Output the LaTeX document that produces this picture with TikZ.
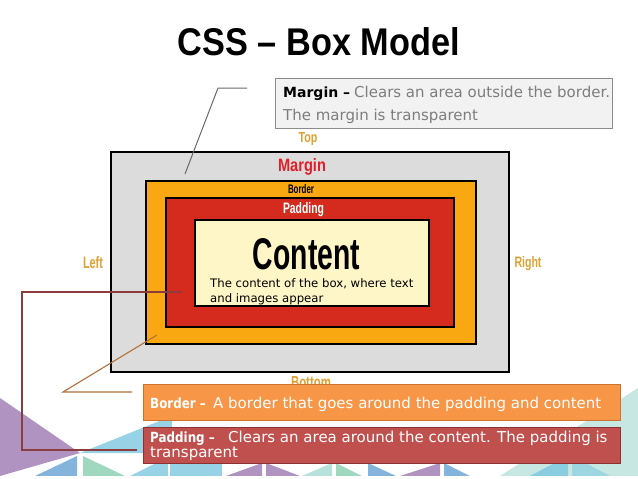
\documentclass[tikz,border=0pt]{standalone}
\usepackage{fontspec}
\setmainfont{DejaVu Sans}
\newfontfamily\headfont{Liberation Sans}
\usepackage{graphicx}
\definecolor{marginfill}{RGB}{220,220,220}
\definecolor{borderfill}{RGB}{250,168,18}
\definecolor{paddingfill}{RGB}{212,43,30}
\definecolor{contentfill}{RGB}{255,246,200}
\definecolor{notegray}{RGB}{242,242,242}
\definecolor{noteedge}{RGB}{140,140,140}
\definecolor{notetext}{RGB}{125,125,125}
\definecolor{bnotefill}{RGB}{247,150,70}
\definecolor{bnoteedge}{RGB}{205,115,45}
\definecolor{pnotefill}{RGB}{192,80,77}
\definecolor{pnoteedge}{RGB}{140,50,50}
\definecolor{gold}{RGB}{222,162,52}
\definecolor{marginred}{RGB}{226,30,40}
\definecolor{lineGray}{RGB}{105,105,105}
\definecolor{lineBrown}{RGB}{178,112,62}
\definecolor{lineRed}{RGB}{140,60,60}
\definecolor{bgpurple}{RGB}{150,112,172}
\definecolor{bgblue}{RGB}{92,155,208}
\definecolor{bglight}{RGB}{118,196,224}
\definecolor{bggreen}{RGB}{128,204,170}
\definecolor{bgteal}{RGB}{160,216,208}
\newcommand{\fitlabel}[3]{\resizebox{#1pt}{#2pt}{\headfont\bfseries #3}}
\tikzset{
  layer/.style={draw=black, line width=1.4pt, inner sep=0pt, outer sep=0pt},
  note/.style={line width=0.8pt, inner sep=0pt, outer sep=0pt},
  lbl/.style={inner sep=0pt, anchor=base},
  txt/.style={inner sep=0pt, anchor=base west},
  notefont/.style={font=\fontsize{15pt}{17pt}\selectfont},
  boldword/.style={font=\fontsize{14pt}{17pt}\selectfont\bfseries},
  tri/.style={opacity=0.75}
}
\begin{document}
\begin{tikzpicture}[x=1pt,y=-1pt]
\useasboundingbox (0,0) rectangle (638,479);
\fill[white] (0,0) rectangle (638,479);
% background decoration
\fill[tri,bgpurple] (0,398) -- (80,453) -- (0,476) -- cycle;
\fill[tri,bglight] (80,453) -- (172,416) -- (172,453) -- cycle;
\fill[tri,bgblue] (35,476) -- (77,456) -- (77,476) -- cycle;
\fill[tri,bggreen] (83,456) -- (125,476) -- (83,476) -- cycle;
\fill[tri,bglight] (130,476) -- (168,457) -- (168,476) -- cycle;
\fill[tri,bglight] (170,463) rectangle (222,476);
\fill[tri,bgpurple] (226,476) -- (262,463) -- (262,476) -- cycle;
\fill[tri,bgpurple] (266,463) -- (300,476) -- (266,476) -- cycle;
\fill[tri,bgteal] (302,476) -- (332,463) -- (332,476) -- cycle;
\fill[tri,bggreen] (336,463) -- (362,476) -- (336,476) -- cycle;
\fill[tri,bgblue] (368,463) -- (396,476) -- (368,476) -- cycle;
\fill[tri,bgpurple] (400,476) -- (440,463) -- (440,476) -- cycle;
\fill[tri,bgblue] (444,463) -- (470,476) -- (444,476) -- cycle;
\fill[tri,bgteal,opacity=0.6] (500,476) -- (638,388) -- (638,476) -- cycle;
\fill[tri,bglight] (530,476) -- (568,456) -- (568,476) -- cycle;
\fill[tri,bglight,opacity=0.5] (572,456) -- (610,476) -- (572,476) -- cycle;
\fill[white] (0,476) rectangle (638,479);
% title
\node[lbl] (title) at (319,55) {\fitlabel{282}{28}{CSS – Box Model}};
% gold side labels
\node[lbl,text=gold] (top) at (308,142) {\fitlabel{19}{10}{Top}};
\node[lbl,text=gold] (left) at (93,268) {\fitlabel{20}{12}{Left}};
\node[lbl,text=gold] (right) at (528,267) {\fitlabel{27}{11}{Right}};
\node[lbl,text=gold] (bottom) at (311,388) {\fitlabel{40}{12}{Bottom}};
% nested boxes
\node[layer,fill=marginfill,minimum width=398pt,minimum height=220pt] (marginArea) at (310,262) {};
\node[layer,fill=borderfill,minimum width=330pt,minimum height=163pt] (borderArea) at (311,262.5) {};
\node[layer,fill=paddingfill,minimum width=288pt,minimum height=129pt] (paddingArea) at (310,262.5) {};
\node[layer,fill=contentfill,minimum width=234pt,minimum height=86pt] (contentArea) at (312,263) {};
\node[lbl,text=marginred] (marginLbl) at (302,171) {\fitlabel{48}{13}{Margin}};
\node[lbl,text=black] (borderLbl) at (301,193) {\fitlabel{26}{9}{Border}};
\node[lbl,text=white] (paddingLbl) at (303.5,213) {\fitlabel{41}{11}{Padding}};
\node[lbl,text=black] (contentLbl) at (306.5,269) {\fitlabel{107}{31}{Content}};
\node[txt,font=\fontsize{11.7pt}{14pt}\selectfont] (desc1) at (210,287) {The content of the box, where text};
\node[txt,font=\fontsize{11.7pt}{14pt}\selectfont] (desc2) at (210,302) {and images appear};
% margin note
\node[note,draw=noteedge,fill=notegray,minimum width=337pt,minimum height=50pt] (marginNote) at (443.5,103) {};
\node[txt,boldword,text=black] (marginKey) at (283,97) {Margin –};
\node[txt,notefont,text=notetext] (marginTxt1) at (354,97) {Clears an area outside the border.};
\node[txt,notefont,text=notetext] (marginTxt2) at (283,120) {The margin is transparent};
% border note
\node[note,draw=bnoteedge,fill=bnotefill,minimum width=477pt,minimum height=36pt] (borderNote) at (381.5,402) {};
\node[txt,boldword,text=white] (borderKey) at (150,408) {\scalebox{0.85}[1]{Border –}};
\node[txt,notefont,text=white] (borderTxt) at (213,408) {A border that goes around the padding and content};
% padding note
\node[note,draw=pnoteedge,fill=pnotefill,minimum width=477pt,minimum height=36pt] (paddingNote) at (381.5,445) {};
\node[txt,boldword,text=white] (paddingKey) at (150,442) {\scalebox{0.85}[1]{Padding –}};
\node[txt,notefont,text=white] (paddingTxt1) at (228,442) {Clears an area around the content. The padding is};
\node[txt,notefont,text=white] (paddingTxt2) at (150,457) {transparent};
% connectors
\coordinate (mA) at (247,88);
\coordinate (mB) at (218,88);
\coordinate (mC) at (185,174);
\draw[lineGray,line width=1pt] (mA) -- (mB) -- (mC);
\coordinate (bA) at (132,392);
\coordinate (bB) at (63,392);
\coordinate (bC) at (157,335);
\draw[lineBrown,line width=1.1pt] (bA) -- (bB) -- (bC);
\coordinate (pA) at (137,450);
\coordinate (pB) at (22,450);
\coordinate (pC) at (22,292);
\coordinate (pD) at (182,292);
\draw[lineRed,line width=1.1pt] (pA) -- (pB) -- (pC) -- (pD);
\end{tikzpicture}
\end{document}
